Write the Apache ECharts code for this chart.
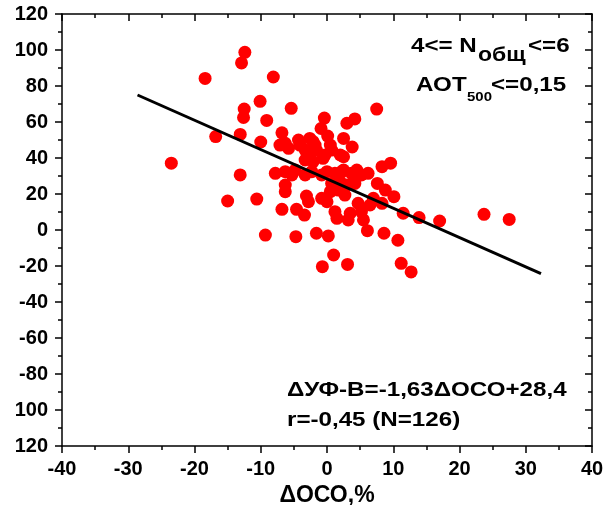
<!DOCTYPE html>
<html>
<head>
<meta charset="utf-8">
<script src="https://cdn.jsdelivr.net/npm/echarts@6/dist/echarts.min.js"></script>
<style>html,body{margin:0;padding:0;background:#fff}#chart{width:603px;height:505px}</style>
</head>
<body>
<div id="chart"></div>
<script>
// ΔОСО, %  (x)
var dOCO = [
  -12.4, -12.9, -18.4, -8.1, -10.1, -12.5, -12.6, -5.4, -9.1, -16.8,
  -13.1, -10.0, -23.5, -13.1, -15.0, -10.6, 7.5, -0.4, 3.0, 4.2,
  -0.9, 0.1, 2.5, 3.8, -6.8, -6.3, -9.3, -4.7, -1.6, 0.2,
  1.0, -0.7, 3.1, 6.1, 8.6, 10.7, 11.2, 12.7, 11.5, 13.9,
  17.0, 23.7, 27.5, 8.3, 9.6, 7.6, 8.8, 10.1, 7.0, 8.3,
  6.5, 5.5,
  -6.8, -4.6, -3.4, -6.3, -6.3, -3.1, -2.8, -0.8, 0.0, 1.5,
  1.2, 3.2, 3.5, 4.7, 5.2, 0.5, 1.7, 2.7, 0.7, 2.0,
  3.0, 4.2, 5.2, 4.0, 6.2, -0.8, 0.0, 1.2, 2.2, 3.7,
  -7.8, -6.3, -5.3, -3.3, -2.3,
  -5.8, -4.3, -4.1, -2.6, -2.1, -1.8, -3.3, -2.8, -1.6, 0.5,
  0.7, 2.0, 2.5, -0.3, -0.6, -3.3, -2.1, -4.8, 2.5, 4.5,
  -7.1
];
// ΔУФ-В, %  (y)
var dUVB = [
  98.7, 92.8, 84.2, 85.0, 71.5, 67.2, 62.5, 67.6, 60.9, 51.9,
  53.1, 48.9, 37.1, 30.6, 16.1, 17.2, 67.2, 62.2, 59.3, 61.7,
  56.4, 52.2, 50.9, 46.1, 54.0, 48.2, -2.8, -3.7, -1.8, -3.3,
  -13.9, -20.4, -19.1, -0.4, -1.8, -5.7, -18.5, -23.3, 9.3, 6.9,
  5.0, 8.7, 5.9, 35.2, 37.1, 25.9, 22.2, 18.5, 17.6, 14.8,
  13.9, 5.6,
  11.5, 11.5, 8.3, 21.3, 25.0, 18.9, 15.7, 17.6, 15.7, 6.5,
  10.2, 5.6, 9.3, 14.8, 10.2, 21.3, 22.2, 19.4, 25.9, 26.8,
  25.0, 25.9, 30.6, 30.6, 31.5, 30.6, 32.4, 31.5, 32.4, 31.5,
  31.5, 32.4, 30.6, 30.6, 32.4,
  45.4, 50.0, 47.2, 50.9, 49.1, 47.2, 44.4, 42.6, 44.4, 47.2,
  44.4, 41.7, 40.7, 41.7, 39.8, 38.9, 38.0, 33.3, 33.3, 33.3,
  47.2
];
// regression line ends
var fitX = [-28.6, 32.3];
var fitY = [75.0, -24.2];

var yTickValues = [-120, -100, -80, -60, -40, -20, 0, 20, 40, 60, 80, 100, 120];
var yTickLabels = ['120', '100', '-80', '-60', '-40', '-20', '0', '20', '40', '60', '80', '100', '120'];

var points = dOCO.map(function (x, i) { return [x, dUVB[i]]; });
var fitLine = fitX.map(function (x, i) { return [x, fitY[i]]; });

var FONT = '"Liberation Sans", Arial, sans-serif';
var axisLine = { show: true, onZero: false, lineStyle: { color: '#000', width: 1.5 } };
var tickStyle = { color: '#000', width: 1.5 };
var labelStyle = { color: '#000', fontFamily: FONT, fontWeight: 'bold', fontSize: 20 };

// annotation text, slightly stretched like the original
function note(txt, x, y, size) {
  return {
    type: 'text', x: x, y: y, scaleX: 1.15,
    style: { text: txt, font: 'bold ' + size + 'px ' + FONT, fill: '#000', textVerticalAlign: 'middle' }
  };
}

var option = {
  animation: false,
  grid: { left: 62, right: 11, top: 14, bottom: 59, containLabel: false, outerBoundsMode: 'none' },
  xAxis: [{
    type: 'value', min: -40, max: 40, interval: 10, position: 'bottom',
    axisLine: axisLine,
    axisTick: { show: true, length: 7, lineStyle: tickStyle },
    minorTick: { show: true, splitNumber: 2, length: 4, lineStyle: tickStyle },
    splitLine: { show: false },
    axisLabel: Object.assign({ margin: 13 }, labelStyle),
    name: 'ΔОСО,%', nameLocation: 'middle', nameGap: 37,
    nameTextStyle: { color: '#000', fontFamily: FONT, fontWeight: 'bold', fontSize: 23 }
  }, {
    type: 'value', min: -40, max: 40, interval: 10, position: 'top',
    axisLine: axisLine,
    axisTick: { show: true, inside: true, length: 7, lineStyle: tickStyle },
    minorTick: { show: true, splitNumber: 2, length: 4, lineStyle: tickStyle },
    splitLine: { show: false },
    axisLabel: { show: false }
  }],
  yAxis: [{
    type: 'value', min: -120, max: 120, interval: 20, position: 'left',
    axisLine: axisLine,
    axisTick: { show: true, length: 7, lineStyle: tickStyle },
    minorTick: { show: true, splitNumber: 2, length: 4, lineStyle: tickStyle },
    splitLine: { show: false },
    axisLabel: Object.assign({
      margin: 14,
      formatter: function (v) { return yTickLabels[yTickValues.indexOf(v)]; }
    }, labelStyle)
  }, {
    type: 'value', min: -120, max: 120, interval: 20, position: 'right',
    axisLine: axisLine,
    axisTick: { show: true, inside: true, length: 7, lineStyle: tickStyle },
    minorTick: { show: true, splitNumber: 2, length: 4, lineStyle: tickStyle },
    splitLine: { show: false },
    axisLabel: { show: false }
  }],
  series: [{
    type: 'scatter',
    data: points,
    symbol: 'circle',
    symbolSize: 13,
    itemStyle: { color: '#ff0000', opacity: 1 },
    z: 2
  }, {
    type: 'line',
    data: fitLine,
    symbol: 'none',
    lineStyle: { color: '#000', width: 3 },
    z: 3
  }],
  graphic: [
    note('4<= N', 411, 46, 21),
    note('общ', 478, 55, 20),
    note('<=6', 528, 46, 21),
    note('АОТ', 416, 85, 21),
    note('500', 467, 97, 13),
    note('<=0,15', 491, 85, 21),
    note('ΔУФ-В=-1,63ΔОСО+28,4', 287, 390, 21),
    note('r=-0,45 (N=126)', 287, 420, 21)
  ]
};

echarts.init(document.getElementById('chart')).setOption(option);
</script>
</body>
</html>
